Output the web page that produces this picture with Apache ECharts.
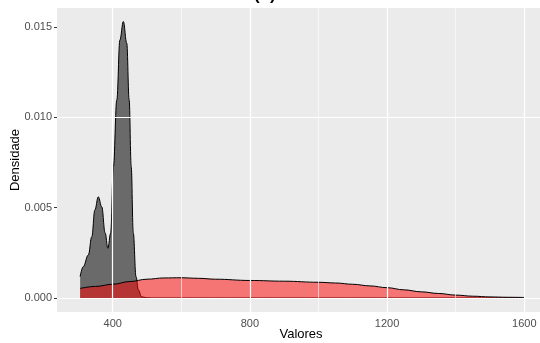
<!DOCTYPE html>
<html>
<head>
<meta charset="utf-8">
<script src="https://cdn.jsdelivr.net/npm/echarts@6/dist/echarts.min.js"></script>
<style>
  html, body { margin: 0; padding: 0; background: #fff; }
  #chart { width: 540px; height: 343px; }
</style>
</head>
<body>
<div id="chart"></div>
<script>
// densidade do grupo cinza
const grayX = [305, 314, 329, 339, 348, 358, 368, 378, 386, 394, 402, 412, 421, 431, 441, 448, 454, 460, 468, 475, 484, 498, 520, 1600]
const grayY = [0.00118, 0.00173, 0.00238, 0.00339, 0.00487, 0.0056, 0.00505, 0.0036, 0.00275, 0.00358, 0.00727, 0.01096, 0.01428, 0.0153, 0.0141, 0.01096, 0.00727, 0.0036, 0.00118, 0.00044, 0.00007, 0.00001, 0, 0]

// densidade do grupo vermelho
const redX = [305, 350, 400, 450, 500, 550, 600, 650, 700, 800, 900, 1000, 1050, 1100, 1150, 1200, 1250, 1300, 1350, 1400, 1450, 1500, 1550, 1600]
const redY = [0.00053, 0.00064, 0.00076, 0.00091, 0.00104, 0.00111, 0.00112, 0.00109, 0.00104, 0.00097, 0.00093, 0.00087, 0.00083, 0.00076, 0.00067, 0.00057, 0.00045, 0.00034, 0.00025, 0.00016, 0.0001, 0.00006, 0.00004, 0.00003]

// ticks e linhas de grade
const xTicks = [400, 800, 1200, 1600]
const xMinor = [600, 1000, 1400]
const yTicks = [0, 0.005, 0.01, 0.015]
const yMinor = [0.0025, 0.0075, 0.0125]

const chart = echarts.init(document.getElementById('chart'))

const zip = (xs, ys) => xs.map((x, i) => [x, ys[i]])

const gridLines = [
  ...xMinor.map(v => ({ xAxis: v, lineStyle: { width: 0.6 } })),
  ...yMinor.map(v => ({ yAxis: v, lineStyle: { width: 0.6 } })),
  ...xTicks.map(v => ({ xAxis: v, lineStyle: { width: 1.2 } })),
  ...yTicks.map(v => ({ yAxis: v, lineStyle: { width: 1.2 } }))
]

const axisText = { color: '#4D4D4D', fontSize: 11, fontFamily: 'Liberation Sans, Arial, sans-serif' }

chart.setOption({
  animation: false,
  grid: {
    left: 57, right: 0, top: 8, bottom: 31,
    show: true, backgroundColor: '#EBEBEB', borderWidth: 0
  },
  xAxis: {
    type: 'value',
    min: 237.6,
    max: 1645.8,
    axisLine: { show: false },
    splitLine: { show: false },
    axisTick: { show: true, length: 3, customValues: xTicks, lineStyle: { color: '#333' } },
    axisLabel: {
      ...axisText,
      margin: 6,
      customValues: xTicks,
      formatter: v => String(v)
    }
  },
  yAxis: {
    type: 'value',
    min: -0.000775,
    max: 0.01605,
    axisLine: { show: false },
    splitLine: { show: false },
    axisTick: { show: true, length: 3, customValues: yTicks, lineStyle: { color: '#333' } },
    axisLabel: {
      ...axisText,
      margin: 5,
      customValues: yTicks,
      formatter: v => v.toFixed(3)
    }
  },
  series: [
    {
      type: 'line',
      data: [],
      z: 1,
      markLine: {
        silent: true,
        symbol: 'none',
        label: { show: false },
        lineStyle: { color: '#fff', type: 'solid' },
        data: gridLines
      }
    },
    {
      name: 'cinza',
      type: 'line',
      z: 2,
      data: zip(grayX, grayY),
      smooth: 0.4,
      smoothMonotone: 'x',
      showSymbol: false,
      lineStyle: { color: '#000', width: 1 },
      areaStyle: { color: 'rgba(0,0,0,0.55)', opacity: 1, origin: 0 }
    },
    {
      name: 'vermelho',
      type: 'line',
      z: 3,
      data: zip(redX, redY),
      smooth: 0.4,
      smoothMonotone: 'x',
      showSymbol: false,
      lineStyle: { color: '#000', width: 1 },
      areaStyle: { color: 'rgba(255,0,0,0.5)', opacity: 1, origin: 0 }
    }
  ],
  graphic: [
    {
      type: 'text', left: 254, top: -13,
      style: { text: '(b)', font: 'bold 17px Liberation Sans, Arial, sans-serif', fill: '#000' }
    },
    {
      type: 'text', x: 15, y: 160, rotation: Math.PI / 2,
      style: {
        text: 'Densidade', font: '13px Liberation Sans, Arial, sans-serif', fill: '#000',
        align: 'center', verticalAlign: 'middle'
      }
    },
    {
      type: 'text', x: 301, y: 334,
      style: {
        text: 'Valores', font: '13px Liberation Sans, Arial, sans-serif', fill: '#000',
        align: 'center', verticalAlign: 'middle'
      }
    }
  ]
})
</script>
</body>
</html>
